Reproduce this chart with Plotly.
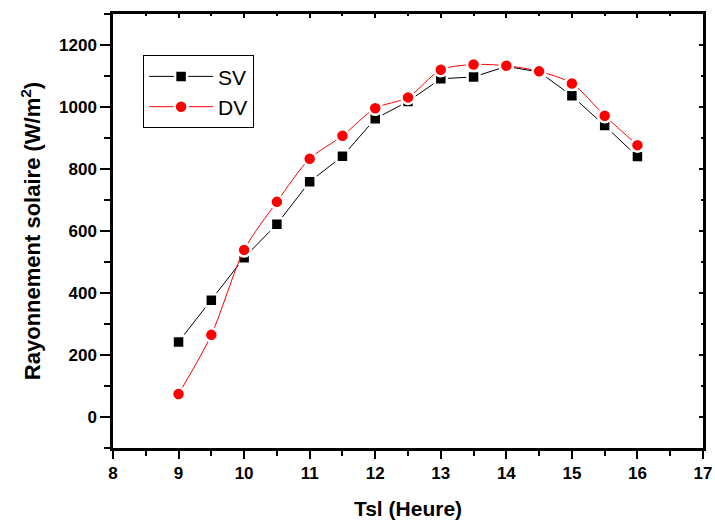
import plotly.graph_objects as go

hours = [9, 9.5, 10, 10.5, 11, 11.5, 12, 12.5, 13, 13.5, 14, 14.5, 15, 15.5, 16]
sv = [242, 377, 514, 622, 759, 841, 962, 1018, 1091, 1097, 1131, 1113, 1036, 940, 840]
dv = [74, 265, 539, 694, 833, 907, 996, 1031, 1120, 1137, 1133, 1115, 1076, 972, 877]

x_ticks = [8, 9, 10, 11, 12, 13, 14, 15, 16, 17]
y_ticks = [0, 200, 400, 600, 800, 1000, 1200]

font_family = "Liberation Sans, Arial, sans-serif"

fig = go.Figure()
fig.add_trace(go.Scatter(
    x=hours, y=sv, name="SV", mode="lines+markers",
    line=dict(color="black", width=1),
    marker=dict(symbol="square", size=12, color="black", line=dict(color="white", width=2.5)),
))
fig.add_trace(go.Scatter(
    x=hours, y=dv, name="DV", mode="lines+markers",
    line=dict(color="red", width=1, shape="spline", smoothing=0.8),
    marker=dict(symbol="circle", size=13, color="red", line=dict(color="white", width=2.5)),
))

axis_common = dict(
    showgrid=False, zeroline=False, showline=True, linecolor="black", linewidth=2.5,
    ticks="outside", tickwidth=2, tickcolor="black", automargin=False,
    tickfont=dict(family=font_family, size=17, color="black"),
)

fig.update_layout(
    width=715, height=522,
    margin=dict(l=113, r=12, t=14, b=74),
    paper_bgcolor="white", plot_bgcolor="white",
    font=dict(family=font_family, color="black"),
    xaxis=dict(
        range=[8, 17], tickmode="array", tickvals=x_ticks, ticklen=8,
        ticktext=[f"<b>{v}</b>" for v in x_ticks],
        minor=dict(dtick=0.5, tick0=8, ticks="outside", ticklen=5, tickwidth=2, tickcolor="black"),
        title=dict(text="<b>Tsl (Heure)</b>", font=dict(family=font_family, size=21), standoff=20),
        **axis_common,
    ),
    yaxis=dict(
        range=[-100, 1300], tickmode="array", tickvals=y_ticks, ticklen=10,
        ticktext=[f"<b>{v}</b>" for v in y_ticks],
        minor=dict(dtick=100, tick0=0, ticks="outside", ticklen=6, tickwidth=2, tickcolor="black"),
        title=dict(text="<b>Rayonnement solaire (W/m<sup>2</sup>)</b>", font=dict(family=font_family, size=22), standoff=13),
        **axis_common,
    ),
    xaxis2=dict(
        overlaying="x", side="top", range=[8, 17], dtick=1, showticklabels=False,
        showgrid=False, zeroline=False, showline=True, linecolor="black", linewidth=2.5,
        ticks="inside", ticklen=4, tickwidth=2, tickcolor="black", automargin=False,
        minor=dict(dtick=0.5, ticks="inside", ticklen=2, tickwidth=2, tickcolor="black"),
        anchor="y",
    ),
    yaxis2=dict(
        overlaying="y", side="right", range=[-100, 1300], dtick=200, showticklabels=False,
        showgrid=False, zeroline=False, showline=True, linecolor="black", linewidth=2.5,
        ticks="inside", ticklen=4, tickwidth=2, tickcolor="black", automargin=False,
        minor=dict(dtick=100, ticks="inside", ticklen=2, tickwidth=2, tickcolor="black"),
        anchor="x",
    ),
    legend=dict(
        x=0.051, y=0.905, xanchor="left", yanchor="top",
        bordercolor="black", borderwidth=1, bgcolor="white",
        font=dict(family=font_family, size=21, color="black"),
        tracegroupgap=0, itemwidth=64,
    ),
    showlegend=True,
)

fig.add_trace(go.Scatter(x=[8], y=[-100], xaxis="x2", yaxis="y2", mode="markers",
                         marker=dict(opacity=0), showlegend=False, hoverinfo="skip"))

fig.write_html(
    "out.html",
    config={"displayModeBar": False},
    post_script="document.body.style.margin='0';document.body.style.overflow='hidden';",
)
